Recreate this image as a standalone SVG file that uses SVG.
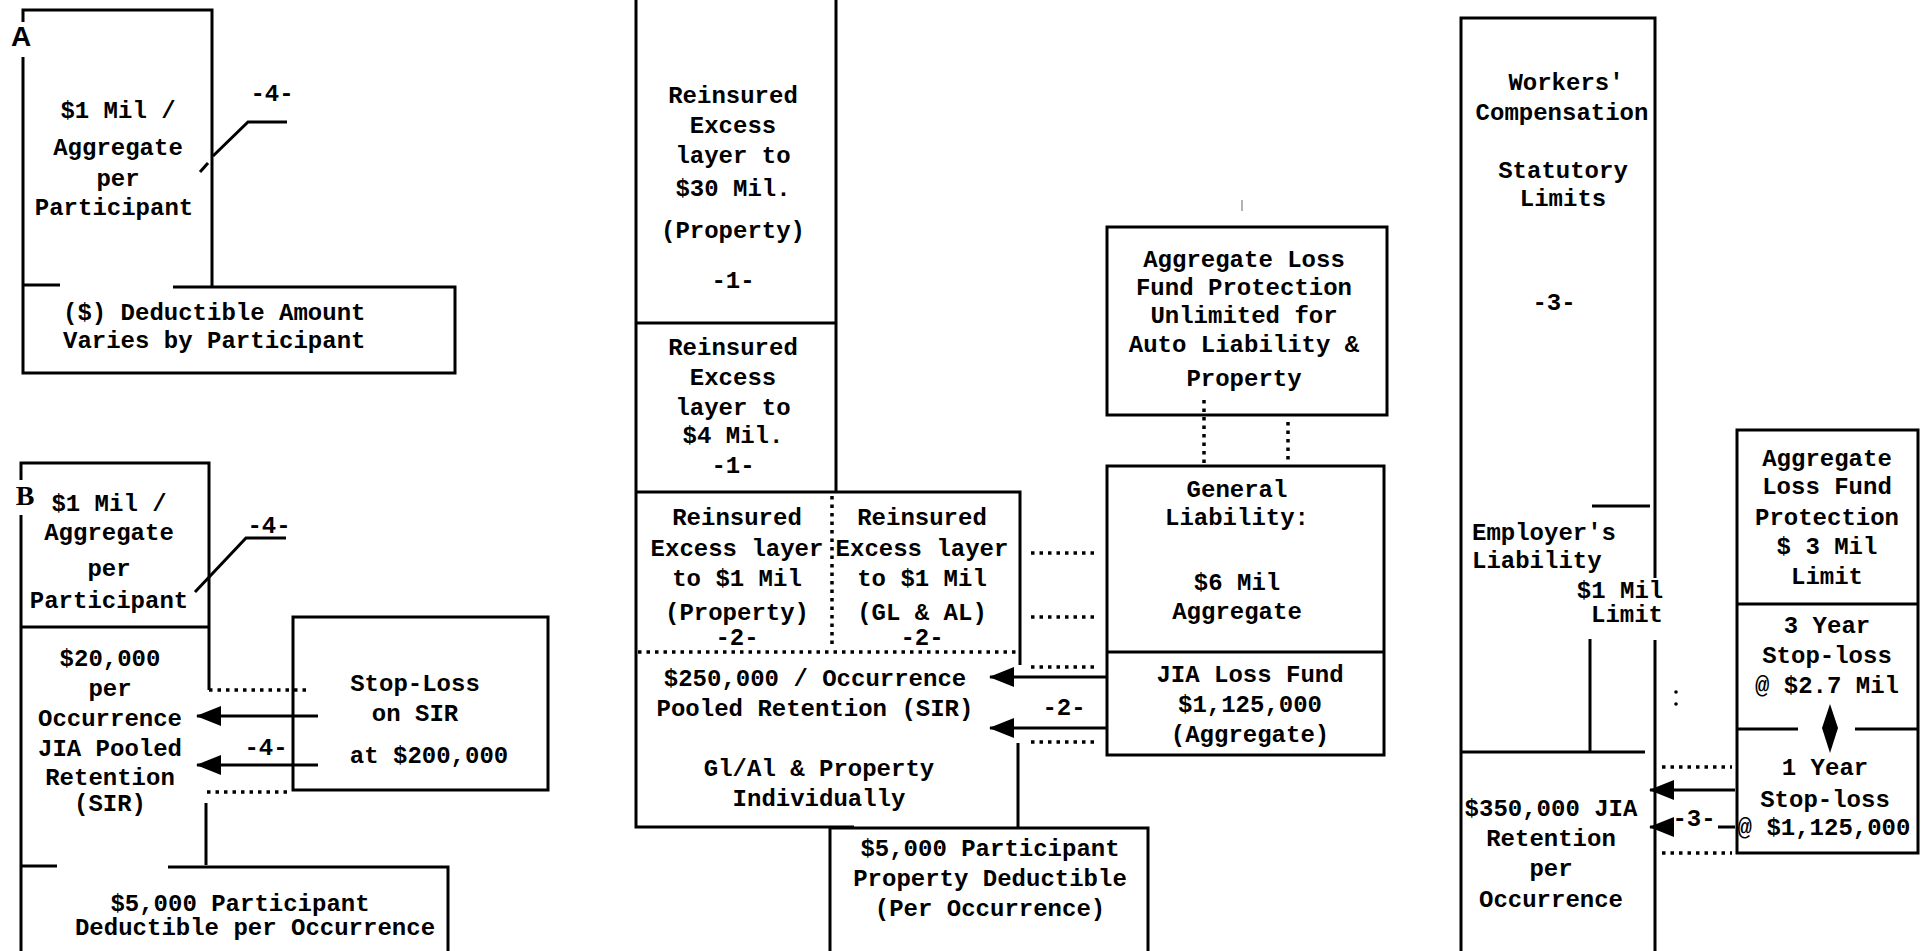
<svg xmlns="http://www.w3.org/2000/svg" width="1926" height="951" viewBox="0 0 1926 951">
<style>
.t{font-family:"Liberation Mono","DejaVu Sans Mono",monospace;font-size:24px;font-weight:bold;fill:#000;text-anchor:middle}
.s{text-anchor:start}
.ln{fill:none;stroke:#000;stroke-width:3}
.bx{fill:none;stroke:#000;stroke-width:3}
.dot{fill:none;stroke:#000;stroke-width:3.5;stroke-dasharray:3.5 5}
.arr{fill:none;stroke:#000;stroke-width:3;marker-end:url(#ah)}
</style>
<defs>
<marker id="ah" markerUnits="userSpaceOnUse" viewBox="0 0 25 20" markerWidth="25" markerHeight="20" refX="24" refY="10" orient="auto">
<path d="M0,0 L25,10 L0,20 Z" fill="#000"/>
</marker>
</defs>
<rect width="1926" height="951" fill="#fff"/>

<g id="sectionA">
<text x="21" y="46" style="font-family:'Liberation Sans',sans-serif;font-size:28px;font-weight:bold;text-anchor:middle">A</text>
<path class="ln" d="M23,22 V10 H212 V287"/>
<path class="ln" d="M23,57 V373 H455 V287 H173"/>
<path class="ln" d="M23,285 H60"/>
<g id="nodeA1">
<text class="t" x="118" y="118">$1 Mil /</text>
<text class="t" x="118" y="155">Aggregate</text>
<text class="t" x="118" y="186">per</text>
<text class="t" x="114" y="215">Participant</text>
</g>
<g id="nodeA2">
<text class="t s" x="63" y="320">($) Deductible Amount</text>
<text class="t s" x="63" y="348">Varies by Participant</text>
</g>
<text class="t" x="272" y="101">-4-</text>
</g>

<g id="sectionB">
<text x="25" y="505" style="font-family:'Liberation Serif',serif;font-size:28px;font-weight:bold;text-anchor:middle">B</text>
<path class="ln" d="M21,480 V463 H209 V690"/>
<path class="ln" d="M21,515 V951"/>
<path class="ln" d="M21,627 H209"/>
<path class="ln" d="M21,866 H57"/>
<g id="nodeB1">
<text class="t" x="109" y="511">$1 Mil /</text>
<text class="t" x="109" y="540">Aggregate</text>
<text class="t" x="109" y="576">per</text>
<text class="t" x="109" y="608">Participant</text>
</g>
<g id="nodeB2">
<text class="t" x="110" y="666">$20,000</text>
<text class="t" x="110" y="696">per</text>
<text class="t" x="110" y="726">Occurrence</text>
<text class="t" x="110" y="756">JIA Pooled</text>
<text class="t" x="110" y="785">Retention</text>
<text class="t" x="110" y="811">(SIR)</text>
</g>
<g id="nodeB3">
<rect class="bx" x="293" y="617" width="255" height="173"/>
<text class="t" x="415" y="691">Stop-Loss</text>
<text class="t" x="415" y="721">on SIR</text>
<text class="t" x="429" y="763">at $200,000</text>
</g>
<g id="nodeB4">
<path class="ln" d="M168,867 H448 V951"/>
<text class="t" x="240" y="911">$5,000 Participant</text>
<text class="t" x="255" y="935">Deductible per Occurrence</text>
</g>
<text class="t" x="269" y="533">-4-</text>
<text class="t" x="266" y="755">-4-</text>
</g>

<g id="sectionMid">
<g id="nodeM1">
<path class="ln" d="M636,0 V827 H854"/>
<path class="ln" d="M836,0 V492"/>
<path class="ln" d="M636,323 H836"/>
<text class="t" x="733" y="103">Reinsured</text>
<text class="t" x="733" y="133">Excess</text>
<text class="t" x="733" y="163">layer to</text>
<text class="t" x="733" y="196">$30 Mil.</text>
<text class="t" x="733" y="238">(Property)</text>
<text class="t" x="733" y="288">-1-</text>
</g>
<g id="nodeM2">
<text class="t" x="733" y="355">Reinsured</text>
<text class="t" x="733" y="385">Excess</text>
<text class="t" x="733" y="415">layer to</text>
<text class="t" x="733" y="443">$4 Mil.</text>
<text class="t" x="733" y="473">-1-</text>
</g>
<g id="nodeM3">
<path class="ln" d="M636,492 H1020 V665"/>
<path class="ln" d="M1018,743 V828"/>
<path class="dot" d="M832,496 V647"/>
<path class="dot" d="M638,652 H1018"/>
<text class="t" x="737" y="525">Reinsured</text>
<text class="t" x="737" y="556">Excess layer</text>
<text class="t" x="737" y="586">to $1 Mil</text>
<text class="t" x="737" y="620">(Property)</text>
<text class="t" x="737" y="645">-2-</text>
<text class="t" x="922" y="525">Reinsured</text>
<text class="t" x="922" y="556">Excess layer</text>
<text class="t" x="922" y="586">to $1 Mil</text>
<text class="t" x="922" y="620">(GL &amp; AL)</text>
<text class="t" x="922" y="645">-2-</text>
<text class="t" x="815" y="686">$250,000 / Occurrence</text>
<text class="t" x="815" y="716">Pooled Retention (SIR)</text>
<text class="t" x="819" y="776">Gl/Al &amp; Property</text>
<text class="t" x="819" y="806">Individually</text>
</g>
<g id="nodeM4">
<path class="ln" d="M830,827 V951"/>
<path class="ln" d="M830,828 H1148 V951"/>
<text class="t" x="990" y="856">$5,000 Participant</text>
<text class="t" x="990" y="886">Property Deductible</text>
<text class="t" x="990" y="916">(Per Occurrence)</text>
</g>
<g id="nodeM5">
<rect class="bx" x="1107" y="227" width="280" height="188"/>
<path d="M1242,200 V211" stroke="#999" stroke-width="1.5"/>
<text class="t" x="1244" y="267">Aggregate Loss</text>
<text class="t" x="1244" y="295">Fund Protection</text>
<text class="t" x="1244" y="323">Unlimited for</text>
<text class="t" x="1244" y="352">Auto Liability &amp;</text>
<text class="t" x="1244" y="386">Property</text>
</g>
<g id="nodeM6">
<rect class="bx" x="1107" y="466" width="277" height="289"/>
<path class="ln" d="M1107,652 H1384"/>
<text class="t" x="1237" y="497">General</text>
<text class="t" x="1237" y="525">Liability:</text>
<text class="t" x="1237" y="590">$6 Mil</text>
<text class="t" x="1237" y="619">Aggregate</text>
<text class="t" x="1250" y="682">JIA Loss Fund</text>
<text class="t" x="1250" y="712">$1,125,000</text>
<text class="t" x="1250" y="742">(Aggregate)</text>
</g>
<text class="t" x="1064" y="715">-2-</text>
</g>

<g id="sectionRight">
<g id="nodeR1">
<path class="ln" d="M1461,951 V18 H1655 V578"/>
<path class="ln" d="M1655,640 V951"/>
<text class="t" x="1566" y="90">Workers'</text>
<text class="t" x="1562" y="120">Compensation</text>
<text class="t" x="1563" y="178">Statutory</text>
<text class="t" x="1563" y="206">Limits</text>
<text class="t" x="1554" y="310">-3-</text>
</g>
<g id="nodeR2">
<path class="ln" d="M1592,506 H1650"/>
<path class="ln" d="M1590,639 V752"/>
<path class="ln" d="M1461,752 H1645"/>
<text class="t s" x="1472" y="540">Employer's</text>
<text class="t s" x="1472" y="568">Liability</text>
<text class="t" x="1620" y="598">$1 Mil</text>
<text class="t" x="1627" y="622">Limit</text>
<circle cx="1676" cy="692" r="1.8" fill="#000"/>
<circle cx="1676" cy="704" r="1.8" fill="#000"/>
</g>
<g id="nodeR3">
<text class="t" x="1551" y="816">$350,000 JIA</text>
<text class="t" x="1551" y="846">Retention</text>
<text class="t" x="1551" y="876">per</text>
<text class="t" x="1551" y="907">Occurrence</text>
</g>
<g id="nodeR4">
<rect class="bx" x="1737" y="430" width="181" height="423"/>
<path class="ln" d="M1737,604 H1918"/>
<path class="ln" d="M1737,729 H1798 M1855,729 H1918"/>
<polygon points="1830,704 1838,728 1830,753 1822,728" fill="#000"/>
<text class="t" x="1827" y="466">Aggregate</text>
<text class="t" x="1827" y="494">Loss Fund</text>
<text class="t" x="1827" y="525">Protection</text>
<text class="t" x="1827" y="554">$ 3 Mil</text>
<text class="t" x="1827" y="584">Limit</text>
<text class="t" x="1827" y="633">3 Year</text>
<text class="t" x="1827" y="663">Stop-loss</text>
<text class="t" x="1827" y="693">@ $2.7 Mil</text>
<text class="t" x="1825" y="775">1 Year</text>
<text class="t" x="1825" y="807">Stop-loss</text>
<text class="t" x="1824" y="835">@ $1,125,000</text>
</g>
<text class="t" x="1694" y="826">-3-</text>
</g>

<g id="connectors">
<path class="ln" d="M287,122 H248 L213,156"/>
<path class="ln" d="M208,163 L200,172"/>
<path class="ln" d="M286,538 H246 L195,592"/>
<path class="dot" d="M209,690 H311"/>
<path class="dot" d="M207,792 H289"/>
<path class="arr" d="M318,716 H197"/>
<path class="arr" d="M318,765 H197"/>
<path class="ln" d="M206,803 V865"/>
<path class="dot" d="M1031,553 H1099"/>
<path class="dot" d="M1031,617 H1099"/>
<path class="dot" d="M1031,667 H1099"/>
<path class="dot" d="M1031,742 H1099"/>
<path class="arr" d="M1106,677 H990"/>
<path class="arr" d="M1106,728 H990"/>
<path class="dot" d="M1204,400 V463"/>
<path class="dot" d="M1288,422 V463"/>
<path class="dot" d="M1662,767 H1732"/>
<path class="dot" d="M1662,853 H1732"/>
<path class="arr" d="M1735,790 H1650"/>
<path class="arr" d="M1672,827 H1650"/>
<path class="ln" d="M1718,827 H1735"/>
</g>
</svg>
